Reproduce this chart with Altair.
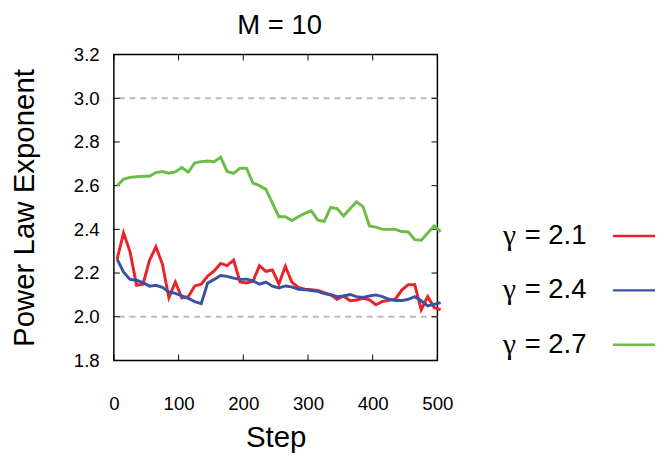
import altair as alt
import pandas as pd

steps = [5 + 10 * k for k in range(51)]

gamma_21 = [2.264, 2.384, 2.297, 2.144, 2.149, 2.257, 2.32, 2.241, 2.087, 2.159,
            2.087, 2.092, 2.141, 2.149, 2.186, 2.21, 2.244, 2.234, 2.259, 2.159,
            2.155, 2.162, 2.234, 2.208, 2.214, 2.149, 2.231, 2.159, 2.134, 2.126,
            2.124, 2.12, 2.11, 2.10, 2.08, 2.095, 2.073, 2.077, 2.084, 2.077,
            2.055, 2.07, 2.075, 2.081, 2.122, 2.147, 2.147, 2.032, 2.092, 2.042,
            2.032]
gamma_24 = [2.264, 2.204, 2.171, 2.167, 2.156, 2.14, 2.144, 2.135, 2.114, 2.107,
            2.096, 2.084, 2.069, 2.06, 2.155, 2.171, 2.189, 2.185, 2.177, 2.171,
            2.172, 2.164, 2.149, 2.159, 2.14, 2.132, 2.141, 2.137, 2.126, 2.124,
            2.12, 2.116, 2.106, 2.101, 2.092, 2.095, 2.102, 2.092, 2.088, 2.095,
            2.10, 2.092, 2.08, 2.074, 2.074, 2.08, 2.092, 2.073, 2.05, 2.057,
            2.065]
gamma_27 = [2.60, 2.63, 2.638, 2.641, 2.643, 2.643, 2.66, 2.665, 2.657, 2.663,
            2.683, 2.662, 2.705, 2.71, 2.713, 2.71, 2.73, 2.665, 2.656, 2.68,
            2.68, 2.612, 2.60, 2.583, 2.52, 2.458, 2.458, 2.44, 2.458, 2.473,
            2.485, 2.443, 2.436, 2.50, 2.495, 2.461, 2.494, 2.526, 2.504, 2.416,
            2.41, 2.40, 2.40, 2.40, 2.39, 2.388, 2.353, 2.35, 2.383, 2.416,
            2.39]

series_names = ["2.1", "2.4", "2.7"]
series_colors = ["#ec2227", "#3953a4", "#6bbd45"]
x_ticks = [0, 100, 200, 300, 400, 500]
y_ticks = [1.8, 2.0, 2.2, 2.4, 2.6, 2.8, 3.0, 3.2]
grid_values = [2.0, 3.0]

W, H = 330, 312
FONT = "Liberation Sans"

rows = []
for name, vals in zip(series_names, [gamma_21, gamma_24, gamma_27]):
    for s, v in zip(steps, vals):
        rows.append({"step": s, "value": v, "series": name})
df = pd.DataFrame(rows)

xscale = alt.Scale(domain=[0, 500], nice=False)
yscale = alt.Scale(domain=[1.8, 3.2], nice=False, zero=False)

xaxis = alt.Axis(values=x_ticks, title="Step", labelFontSize=19, titleFontSize=30,
                 labelFont=FONT, titleFont=FONT, titleFontWeight="normal",
                 labelColor="black", titleColor="black", ticks=False, tickSize=0,
                 labelFlush=False, labelOverlap=False,
                 domain=False, grid=False, labelPadding=35, titlePadding=10)
yaxis = alt.Axis(values=y_ticks, format=".1f", title="Power Law Exponent",
                 labelFontSize=19, titleFontSize=30, labelFont=FONT, titleFont=FONT,
                 titleFontWeight="normal", labelColor="black", titleColor="black",
                 ticks=False, tickSize=0, domain=False, grid=False,
                 labelFlush=False, labelOverlap=False,
                 labelPadding=15, titlePadding=35)

X = alt.X("step:Q", scale=xscale, axis=xaxis)
Y = alt.Y("value:Q", scale=yscale, axis=yaxis)

grid = alt.Chart(pd.DataFrame({"value": grid_values})).mark_rule(
    color="#bbbbbb", strokeWidth=2, strokeDash=[6, 5]
).encode(y=Y)

lines = alt.Chart(df).mark_line(strokeWidth=3).encode(
    x=X, y=Y,
    color=alt.Color("series:N", scale=alt.Scale(domain=series_names, range=series_colors), legend=None),
    detail="series:N",
)

xt = pd.DataFrame({"step": x_ticks})
yt = pd.DataFrame({"value": y_ticks})
tick_style = dict(color="black", strokeWidth=1)
xt_bottom = alt.Chart(xt).mark_rule(**tick_style).encode(x=X, y=alt.value(H), y2=alt.value(H - 6))
xt_top = alt.Chart(xt).mark_rule(**tick_style).encode(x=X, y=alt.value(0), y2=alt.value(6))
yt_left = alt.Chart(yt).mark_rule(**tick_style).encode(y=Y, x=alt.value(0), x2=alt.value(6))
yt_right = alt.Chart(yt).mark_rule(**tick_style).encode(y=Y, x=alt.value(W - 6), x2=alt.value(W))

main = alt.layer(grid, xt_bottom, xt_top, yt_left, yt_right, lines).properties(
    width=W, height=H,
    view=alt.ViewBackground(stroke="black", strokeWidth=1.5),
)

leg_df = pd.DataFrame({"series": series_names,
                       "idx": list(range(len(series_names))),
                       "label": ["= " + n for n in series_names]})
LY = alt.Y("idx:Q", scale=alt.Scale(domain=[0, 2], range=[185, 296], nice=False, zero=False), axis=None)
leg_gamma = alt.Chart(leg_df).mark_text(
    text="γ", font="Liberation Serif", fontSize=30, align="left", baseline="middle", color="black"
).encode(x=alt.value(0), y=LY)
leg_text = alt.Chart(leg_df).mark_text(
    font=FONT, fontSize=28, align="left", baseline="middle", color="black"
).encode(x=alt.value(22), y=LY, text="label:N")
leg_line = alt.Chart(leg_df).mark_rule(strokeWidth=2.5).encode(
    x=alt.value(112), x2=alt.value(155), y=LY,
    color=alt.Color("series:N", scale=alt.Scale(domain=series_names, range=series_colors), legend=None),
)
legend = alt.layer(leg_gamma, leg_text, leg_line).properties(
    width=140, height=H,
    view=alt.ViewBackground(stroke="transparent", strokeWidth=0),
)

chart = alt.hconcat(main, legend, spacing=50).resolve_scale(color="shared").properties(
    padding=0,
    title=alt.TitleParams("M = 10", fontSize=28, font=FONT, fontWeight="normal",
                          color="black", anchor="middle", frame="bounds",
                          dx=-54, offset=5),
).configure(
    background="white",
    view=alt.ViewConfig(stroke="transparent"),
)

chart.save("out.html", embed_options={"renderer": "svg", "actions": False})
